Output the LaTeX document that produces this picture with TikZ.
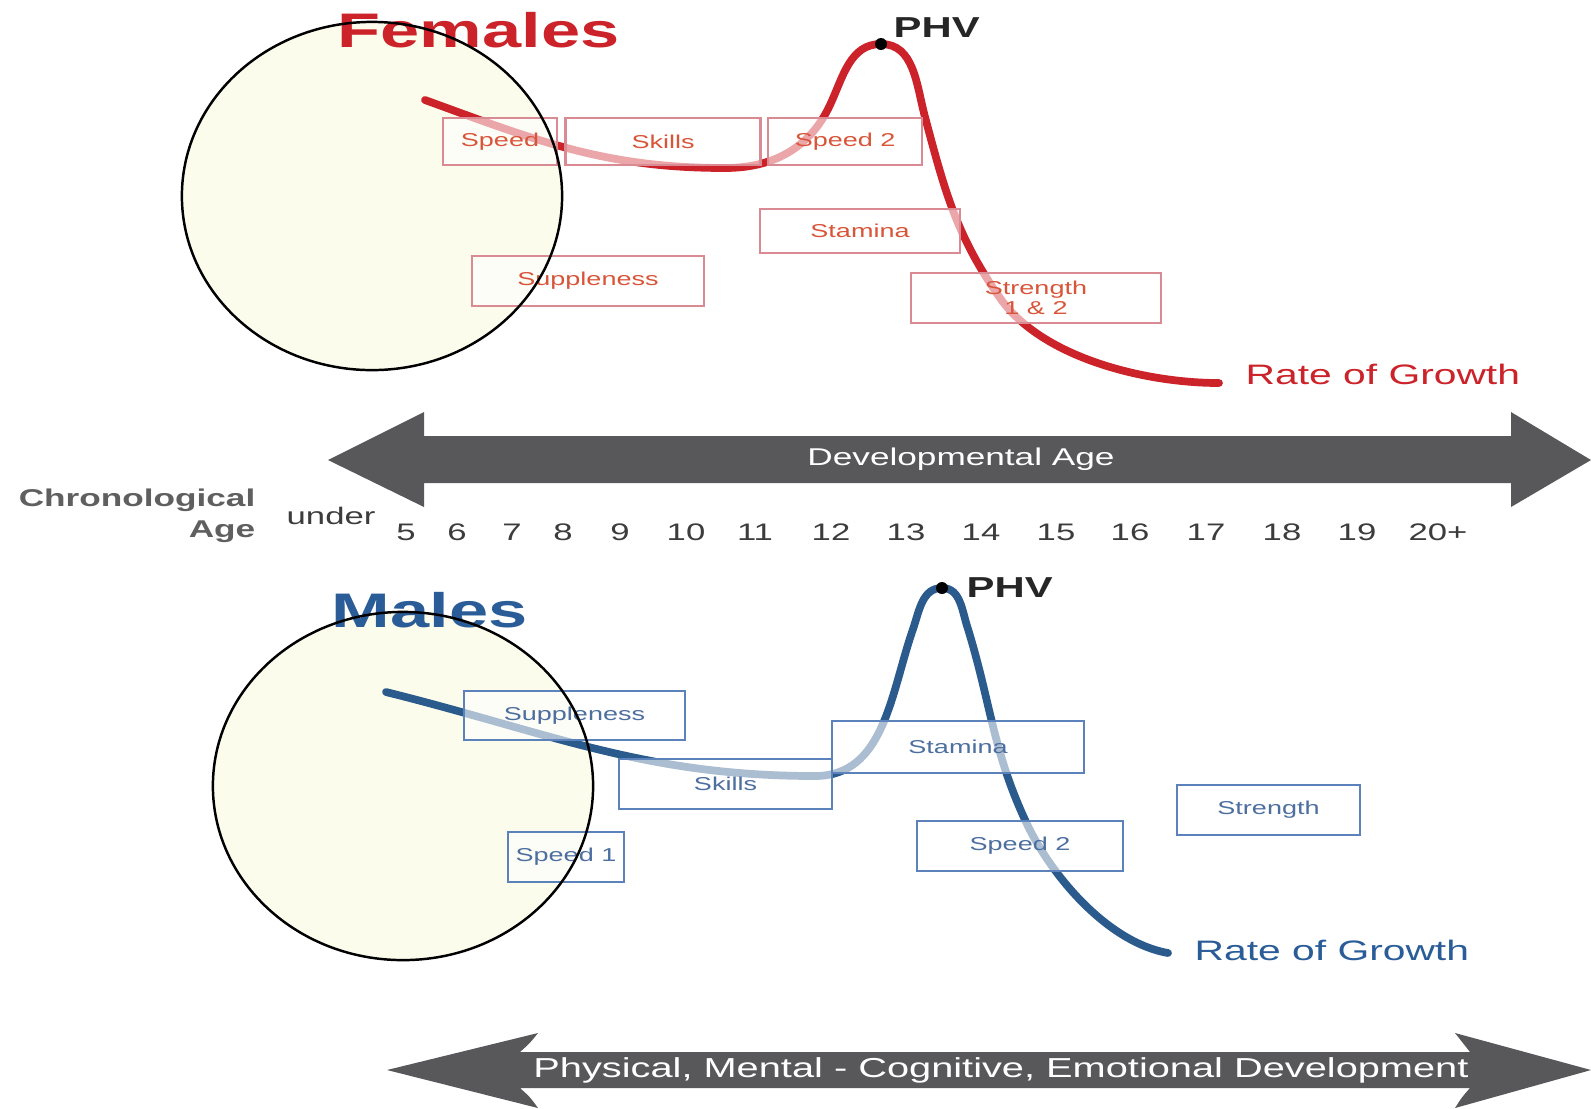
\documentclass[tikz,border=0pt]{standalone}
\usepackage{fontspec}
\setmainfont{Liberation Sans}[FakeStretch=1.45]
\usetikzlibrary{positioning}
\usepackage{xcolor}

\definecolor{fred}{HTML}{CC2229}
\definecolor{fline}{HTML}{DA8A92}
\definecolor{ftext}{HTML}{D9553A}
\definecolor{mblue}{HTML}{2B5A8C}
\definecolor{mtitle}{HTML}{2A5D98}
\definecolor{mline}{HTML}{5B82BA}
\definecolor{mtext}{HTML}{4D6FA0}
\definecolor{arrowgray}{HTML}{58585B}
\definecolor{chrongray}{HTML}{5F5F5F}
\definecolor{numgray}{HTML}{3C3C3C}
\definecolor{discfill}{HTML}{FCFCEC}

\begin{document}
\begin{tikzpicture}[x=0.01cm, y=-0.01cm,
    fbox/.style = {draw=fline, line width=0.7pt, fill=white, fill opacity=0.6, text opacity=1, text=ftext, inner sep=0pt, minimum height=0.47cm, font=\fontsize{5.3}{5.6}\selectfont},
    mbox/.style = {draw=mline, line width=0.7pt, fill=white, fill opacity=0.6, text opacity=1, text=mtext, inner sep=0pt, minimum height=0.5cm, font=\fontsize{5.3}{5.6}\selectfont},
    fcurve/.style = {draw=fred, line width=2.2pt, line cap=round},
    mcurve/.style = {draw=mblue, line width=2.2pt, line cap=round},
    phvdot/.style = {circle, fill=black, inner sep=0pt, minimum size=0.12cm},
    phvlabel/.style = {font=\fontsize{8.2}{9}\selectfont\bfseries, text=black!85, inner sep=0pt},
    sextitle/.style = {font=\fontsize{13.8}{15}\selectfont\bfseries, inner sep=0pt},
    rate/.style = {font=\fontsize{8}{9}\selectfont, inner sep=0pt},
    arrowtext/.style = {text=white, inner sep=0pt},
    chrono/.style = {font=\fontsize{6.9}{8}\selectfont\bfseries, text=chrongray, inner sep=0pt},
    agenum/.style = {font=\fontsize{6.8}{8}\selectfont, text=numgray, inner sep=0pt, anchor=base},
    disc/.style = {fill=discfill},
    discline/.style = {draw=black, line width=0.7pt}]

  \useasboundingbox (0,0) rectangle (1591,1108);
  \fill[white] (0,0) rectangle (1591,1108);

  % highlighted discs
  \fill[disc] (372,196) ellipse [x radius=1.9cm, y radius=1.74cm];
  \fill[disc] (403,786) ellipse [x radius=1.9cm, y radius=1.74cm];

  % females
  \node[sextitle, text=fred, anchor=base west] (females) at (337,47) {Females};
  \coordinate (fstart) at (425,100);
  \coordinate (flow) at (725,168);
  \coordinate (fup) at (830,105);
  \coordinate (fpeak) at (881,44);
  \coordinate (fdown) at (925,117);
  \coordinate (fmid) at (1000,298);
  \coordinate (fend) at (1219,383);
  \draw[fcurve] (fstart) to[out=-20,in=180] (flow) to[out=0,in=-115] (fup) to[out=65,in=180] (fpeak)
    to[out=0,in=105] (fdown) to[out=-75,in=125] (fmid) to[out=-55,in=180,looseness=0.8] (fend);

  \node[fbox, minimum width=1.14cm] (fspeed) at (500,141.5) {Speed};
  \node[fbox, minimum width=1.95cm] (fskills) [right=0.06cm of fspeed] {Skills};
  \node[fbox, minimum width=1.54cm] (fspeedtwo) [right=0.05cm of fskills] {Speed 2};
  \node[fbox, minimum width=2cm, minimum height=0.44cm] (fstamina) at (860,231) {Stamina};
  \node[fbox, minimum width=2.32cm, minimum height=0.5cm] (fsupple) at (588,281) {Suppleness};
  \node[fbox, minimum width=2.5cm, minimum height=0.5cm, align=center] (fstrength) at (1036,298) {Strength\\1 \& 2};

  \node[phvdot] (fphv) at (fpeak) {};
  \node[phvlabel, anchor=base west] (fphvtext) at (893,37) {PHV};
  \node[rate, text=fred, anchor=base west] (frate) at (1245,384) {Rate of Growth};

  % age axis
  \fill[arrowgray] (328,460) -- (424,412) -- (424,436) -- (1511,436) -- (1511,412) -- (1591,460)
    -- (1511,507) -- (1511,483) -- (424,483) -- (424,507) -- cycle;
  \node[arrowtext, font=\fontsize{6.9}{8}\selectfont] (devage) at (961,459) {Developmental Age};

  \node[chrono, anchor=base east] (chron) at (256,506) {Chronological};
  \node[chrono, anchor=base east] (chronage) at (256,537) {Age};
  \node[agenum, anchor=base west] (under) at (286,524) {under};
  \node[agenum] (a5) at (406,540) {5};
  \node[agenum] (a6) at (457,540) {6};
  \node[agenum] (a7) at (512,540) {7};
  \node[agenum] (a8) at (563,540) {8};
  \node[agenum] (a9) at (620,540) {9};
  \node[agenum] (a10) at (686,540) {10};
  \node[agenum] (a11) at (755,540) {11};
  \node[agenum] (a12) at (831,540) {12};
  \node[agenum] (a13) at (906,540) {13};
  \node[agenum] (a14) at (981,540) {14};
  \node[agenum] (a15) at (1056,540) {15};
  \node[agenum] (a16) at (1130,540) {16};
  \node[agenum] (a17) at (1206,540) {17};
  \node[agenum] (a18) at (1282,540) {18};
  \node[agenum] (a19) at (1357,540) {19};
  \node[agenum] (a20) at (1438,540) {20+};

  % males
  \node[sextitle, text=mtitle, anchor=base west] (males) at (331,627) {Males};
  \coordinate (mstart) at (386,692);
  \coordinate (mlow) at (815,776);
  \coordinate (mup) at (913,629);
  \coordinate (mpeak) at (942,588);
  \coordinate (mdown) at (968,629);
  \coordinate (mmid) at (1026,822);
  \coordinate (mend) at (1168,953);
  \draw[mcurve] (mstart) to[out=-14,in=180] (mlow) to[out=0,in=-109] (mup) to[out=71,in=180] (mpeak)
    to[out=0,in=109] (mdown) to[out=-73,in=115] (mmid) to[out=-65,in=170,looseness=0.8] (mend);

  \node[mbox, minimum width=2.21cm, minimum height=0.49cm] (msupple) at (574.5,715.5) {Suppleness};
  \node[mbox, minimum width=2.13cm] (mskills) at (725.5,784) {Skills};
  \node[mbox, minimum width=2.52cm, minimum height=0.52cm] (mstamina) at (958,747) {Stamina};
  \node[mbox, minimum width=1.16cm] (mspeedone) at (566,857) {Speed 1};
  \node[mbox, minimum width=2.06cm] (mspeedtwo) at (1020,846) {Speed 2};
  \node[mbox, minimum width=1.83cm] (mstrength) at (1268.5,810) {Strength};

  \node[phvdot] (mphv) at (mpeak) {};
  \node[phvlabel, anchor=base west] (mphvtext) at (966,597) {PHV};
  \node[rate, text=mtitle, anchor=base west] (mrate) at (1194,960) {Rate of Growth};

  % development axis
  \fill[arrowgray] (387,1070) -- (538,1033) .. controls (530,1043) .. (520,1052) -- (1470,1052)
    .. controls (1462,1043) .. (1455,1033) -- (1591,1070) -- (1455,1108) .. controls (1462,1097) .. (1470,1088)
    -- (520,1088) .. controls (530,1097) .. (538,1108) -- cycle;
  \node[arrowtext, font=\fontsize{7.8}{9}\selectfont] (devtypes) at (1001,1070) {Physical, Mental - Cognitive, Emotional Development};

  % disc outlines on top
  \draw[discline] (372,196) ellipse [x radius=1.9cm, y radius=1.74cm];
  \draw[discline] (403,786) ellipse [x radius=1.9cm, y radius=1.74cm];
\end{tikzpicture}
\end{document}
